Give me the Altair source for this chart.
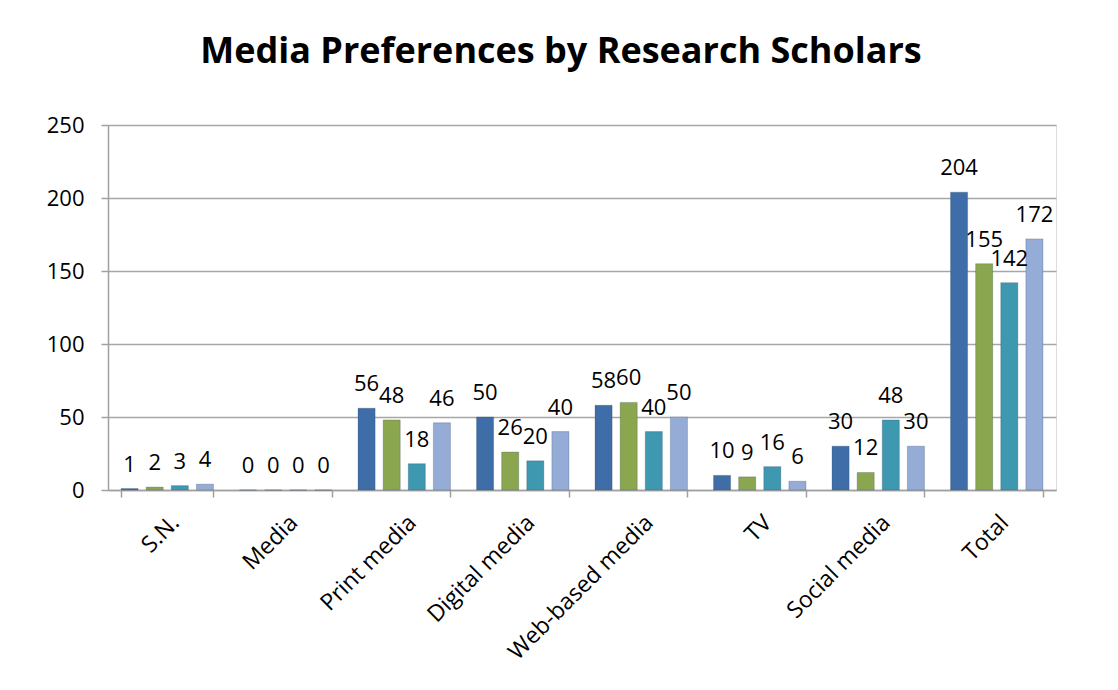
import altair as alt
import pandas as pd

categories = ["S.N.", "Media", "Print media", "Digital media", "Web-based media", "TV", "Social media", "Total"]
series_names = ["Series 1", "Series 2", "Series 3", "Series 4"]
series1 = [1, 0, 56, 50, 58, 10, 30, 204]
series2 = [2, 0, 48, 26, 60, 9, 12, 155]
series3 = [3, 0, 18, 20, 40, 16, 48, 142]
series4 = [4, 0, 46, 40, 50, 6, 30, 172]
colors = ["#3E6DA7", "#8AA64E", "#3E98B0", "#94ACD6"]

rows = []
for name, vals in zip(series_names, [series1, series2, series3, series4]):
    for c, v in zip(categories, vals):
        rows.append({"category": c, "series": name, "value": v})
df = pd.DataFrame(rows)

FONT = "Open Sans"

x = alt.X("category:N", sort=categories, title=None,
          scale=alt.Scale(paddingInner=0.22, paddingOuter=0.11),
          axis=alt.Axis(labelAngle=-45, labelFontSize=23, labelFont=FONT, labelColor="#000000",
                        labelPadding=14, tickBand="extent", tickSize=7, tickColor="#a0a0a0",
                        domainColor="#a0a0a0", domainWidth=1.5, tickWidth=1.5, labelLimit=400))
xoff = alt.XOffset("series:N", sort=series_names, scale=alt.Scale(paddingInner=0.32))
y = alt.Y("value:Q", title=None,
          scale=alt.Scale(domain=[0, 250]),
          axis=alt.Axis(values=[0, 50, 100, 150, 200, 250], labelFontSize=22, labelFont=FONT,
                        labelColor="#000000", gridColor="#a6a6a6", gridWidth=1.5,
                        domainColor="#a0a0a0", domainWidth=1.5, tickColor="#a0a0a0",
                        tickWidth=1.5, tickSize=7, labelPadding=17))
color = alt.Color("series:N", sort=series_names,
                  scale=alt.Scale(domain=series_names, range=colors), legend=None)

base = alt.Chart(df).encode(x=x, xOffset=xoff, y=y)
bars = base.mark_bar(stroke="#2a3f5f", strokeOpacity=0.25, strokeWidth=1).encode(color=color)
labels = base.mark_text(fontSize=22, font=FONT, color="#000000", baseline="bottom", dy=-12).encode(
    text="value:Q")

chart = alt.layer(bars, labels).properties(
    width=948, height=365,
    title=alt.TitleParams("Media Preferences by Research Scholars", fontSize=36, font=FONT,
                          fontWeight="bold", color="#000000", dx=-21, offset=43),
    autosize=alt.AutoSizeParams(type="none"),
    padding={"left": 108, "top": 125, "right": 62, "bottom": 200},
).configure_view(stroke=None).configure(background="white")

chart.save("out.html", embed_options={"renderer": "svg", "actions": False})
